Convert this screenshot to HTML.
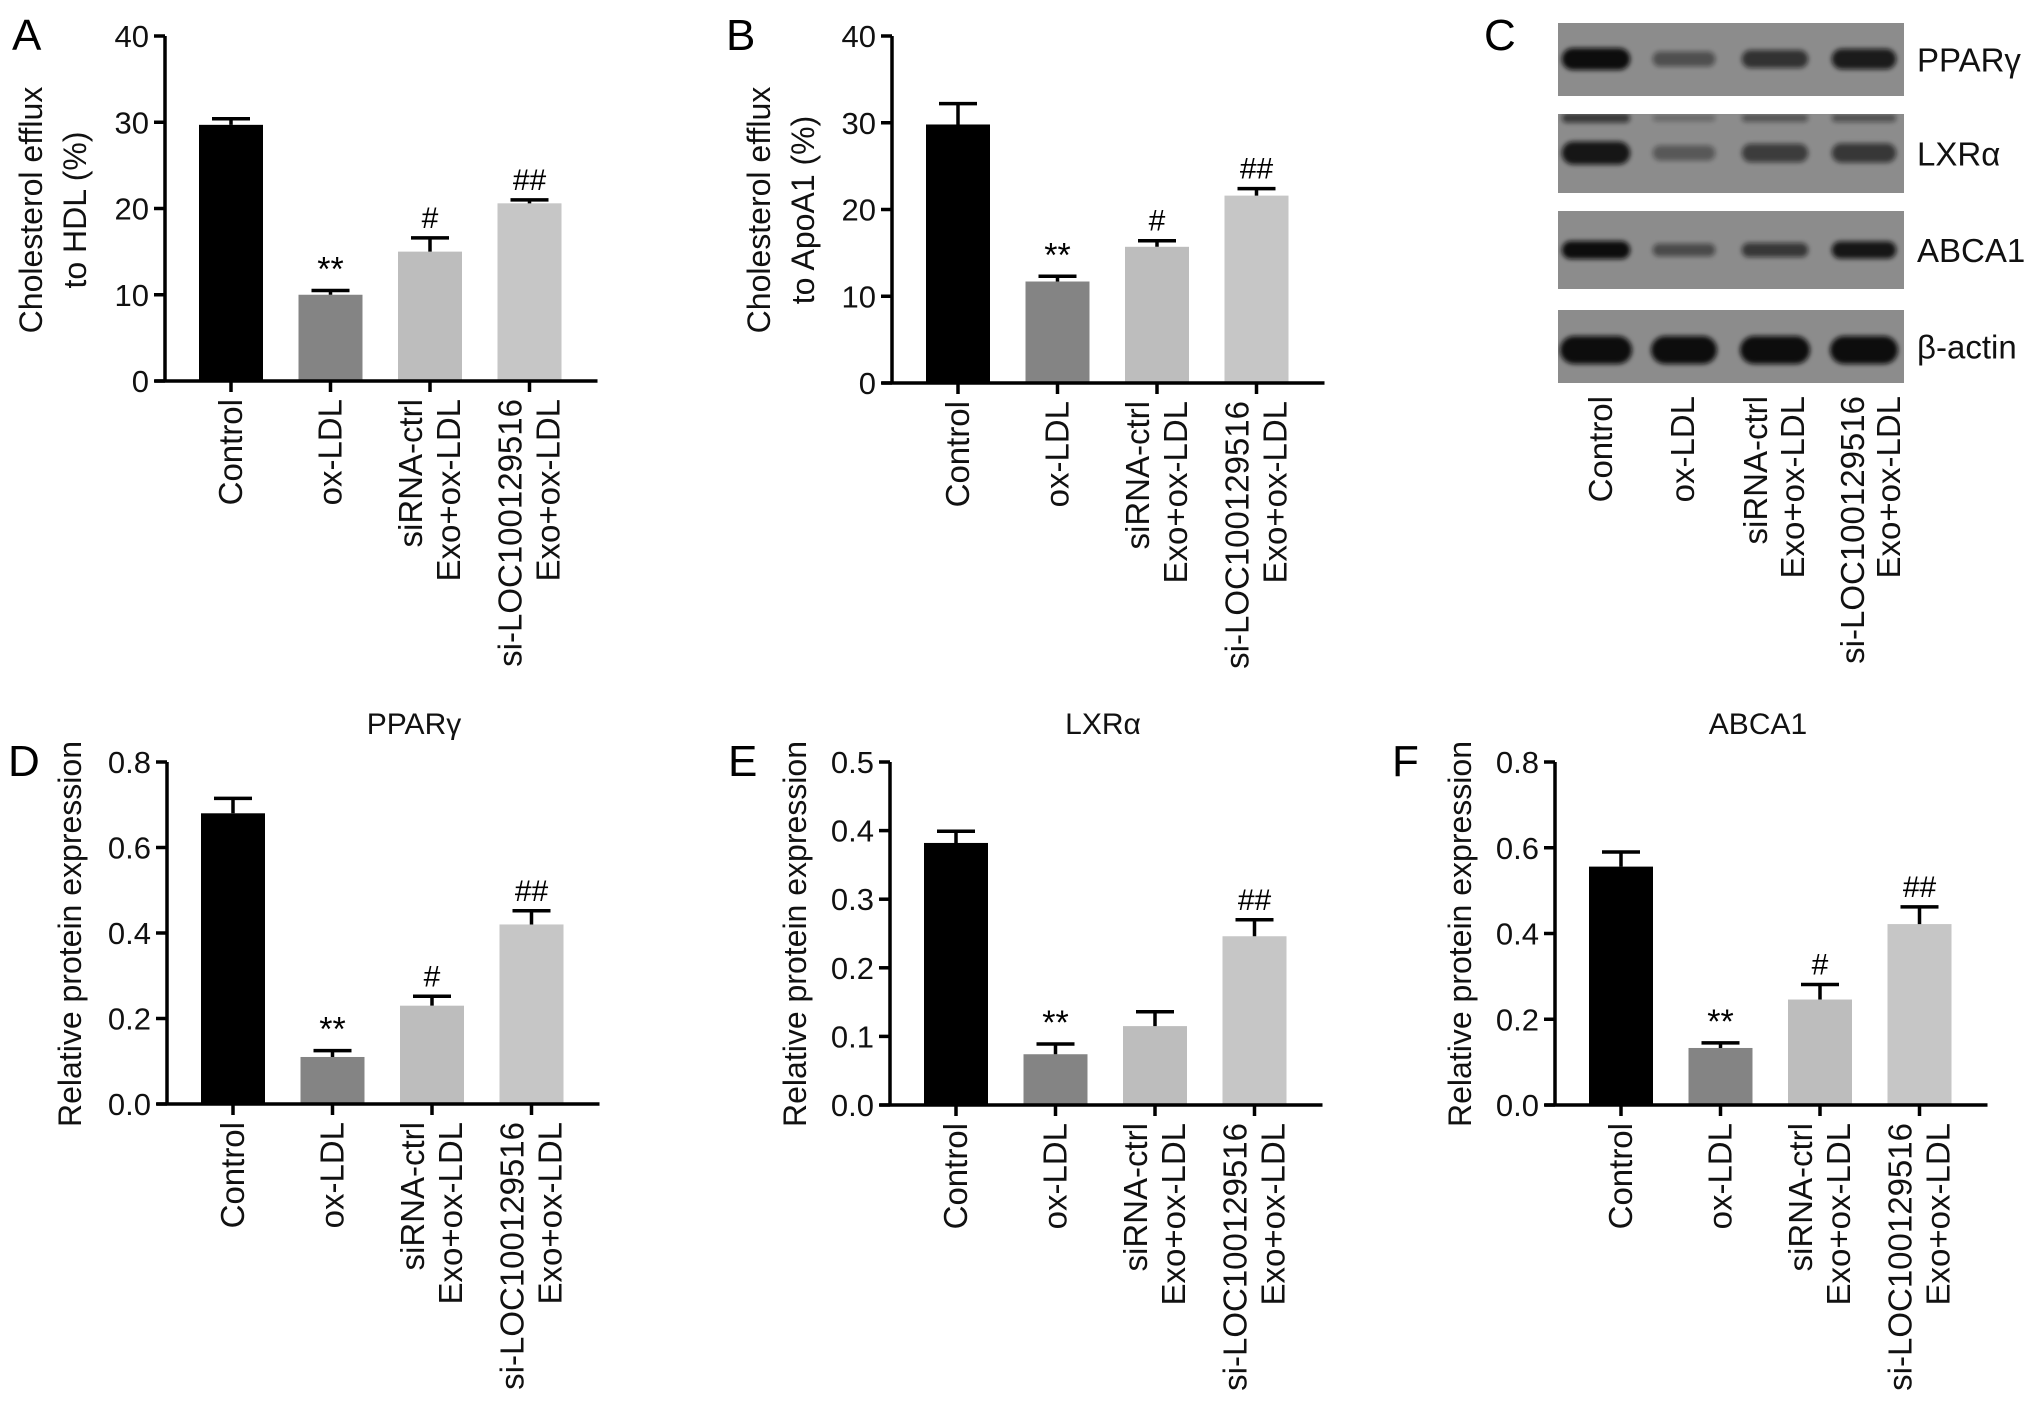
<!DOCTYPE html>
<html><head><meta charset="utf-8">
<style>
html,body{margin:0;padding:0;background:#fff;}
svg{display:block;font-family:"Liberation Sans",Arial,sans-serif;}
</style></head>
<body>
<svg id="fig" width="2032" height="1411" viewBox="0 0 2032 1411" xmlns="http://www.w3.org/2000/svg">
<defs><filter id="blur" x="-20%" y="-80%" width="140%" height="260%"><feGaussianBlur stdDeviation="2.5"/></filter></defs>
</svg>
<script>
const categories = ["Control","ox-LDL","siRNA-ctrl|Exo+ox-LDL","si-LOC100129516|Exo+ox-LDL"];
const barColors = ["#000000","#848484","#bdbdbd","#c6c6c6"];
const valuesA = [29.7, 10.0, 15.0, 20.6];
const errA = [30.4, 10.5, 16.6, 21.0];
const sigA = ["", "**", "#", "##"];
const valuesB = [29.8, 11.7, 15.7, 21.6];
const errB = [32.2, 12.3, 16.4, 22.4];
const sigB = ["", "**", "#", "##"];
const valuesD = [0.68, 0.11, 0.23, 0.42];
const errD = [0.715, 0.125, 0.252, 0.452];
const sigD = ["", "**", "#", "##"];
const valuesE = [0.382, 0.074, 0.115, 0.246];
const errE = [0.399, 0.089, 0.136, 0.270];
const sigE = ["", "**", "", "##"];
const valuesF = [0.556, 0.133, 0.246, 0.422];
const errF = [0.590, 0.145, 0.281, 0.462];
const sigF = ["", "**", "#", "##"];
const ticksA = ["0","10","20","30","40"];
const ticksD = ["0.0","0.2","0.4","0.6","0.8"];
const ticksE = ["0.0","0.1","0.2","0.3","0.4","0.5"];
const blotRows = ["PPARγ","LXRα","ABCA1","β-actin"];
const bandPPAR = [1.0, 0.3, 0.6, 0.85];
const bandLXR = [0.9, 0.2, 0.5, 0.55];
const bandABCA1 = [1.0, 0.35, 0.55, 0.9];
const bandActin = [1.0, 1.0, 1.0, 1.0];

const NS = "http://www.w3.org/2000/svg";
const svg = document.getElementById("fig");
function mk(tag, attrs, parent){
  const e = document.createElementNS(NS, tag);
  for (const k in attrs) e.setAttribute(k, attrs[k]);
  (parent||svg).appendChild(e);
  return e;
}
function txt(s, attrs, parent){ const t = mk("text", attrs, parent); t.textContent = s; return t; }

function panel(cfg){
  const g = mk("g", {});
  
  
  const ax = cfg.axisX, yT = cfg.yTop, y0 = cfg.yZero, max = cfg.max;
  const yScale = v => y0 - (v / max) * (y0 - yT);
  const xScale = i => ax + 66 + i * 99.5;
  cfg.values.forEach((v, i) => {
    const r = mk("rect", {x: xScale(i) - 32, y: yScale(v), width: 64, height: y0 - yScale(v), fill: barColors[i]}, g);
    
    
    const eTop = yScale(cfg.err[i]);
    const el = mk("path", {d: `M${xScale(i)} ${yScale(v)}V${eTop}M${xScale(i)-19} ${eTop}H${xScale(i)+19}`, stroke: "#000", "stroke-width": 3.5, fill: "none"}, g);
    
    
    if (cfg.sig[i]) {
      const s = txt(cfg.sig[i], {x: xScale(i), y: eTop - 10, "text-anchor": "middle", "font-size": cfg.sig[i] === "**" ? 34 : 30, fill: "#000"}, g);
      
      
    }
  });
  const xAxisEnd = xScale(3) + 68;
  const axes = mk("path", {d: `M${ax} ${yT}V${y0}M${ax-10} ${y0}H${xAxisEnd}`, stroke: "#000", "stroke-width": 3.5, fill: "none"}, g);
  
  
  cfg.ticks.forEach((t, k) => {
    const v = k * max / (cfg.ticks.length - 1);
    const y = yScale(v);
    mk("line", {x1: ax - 11, x2: ax, y1: y, y2: y, stroke: "#000", "stroke-width": 3.5}, g);
    const tl = txt(t, {x: ax - 16, y: y + 11, "text-anchor": "end", "font-size": 31, fill: "#111"}, g);
    
    
  });
  categories.forEach((c, i) => {
    const x = xScale(i);
    mk("line", {x1: x, x2: x, y1: y0, y2: y0 + 11, stroke: "#000", "stroke-width": 3.5}, g);
    const lines = c.split("|");
    lines.forEach((ln, j) => {
      const dx = lines.length === 1 ? 11 : (j === 0 ? -8 : 30);
      const t = txt(ln, {x: 0, y: 0, "text-anchor": "end", "font-size": 33, fill: "#111", transform: `translate(${x + dx},${y0 + 18}) rotate(-90)`}, g);
      
      
    });
  });
  cfg.yTitle.forEach((ln, j) => {
    const t = txt(ln, {x: 0, y: 0, "text-anchor": "middle", "font-size": 32, fill: "#111", transform: `translate(${cfg.titleX + j * 44},${cfg.titleY}) rotate(-90)`}, g);
    
    
  });
  if (cfg.top) {
    const t = txt(cfg.top, {x: cfg.topX, y: yT - 28, "text-anchor": "middle", "font-size": 30, fill: "#111"}, g);
    
    
  }
  const L = txt(cfg.letter, {x: cfg.letterX, y: cfg.letterY, "font-size": 44, fill: "#000"}, g);
  
  
}

panel({name:"panel-a-chart", axisX:165, yTop:36, yZero:381, max:40, values:valuesA, err:errA, sig:sigA, ticks:ticksA,
  yTitle:["Cholesterol efflux","to HDL (%)"], titleX:42, titleY:210, letter:"A", letterX:12, letterY:50});
panel({name:"panel-b-chart", axisX:892, yTop:36, yZero:383, max:40, values:valuesB, err:errB, sig:sigB, ticks:ticksA,
  yTitle:["Cholesterol efflux","to ApoA1 (%)"], titleX:770, titleY:210, letter:"B", letterX:726, letterY:50});
panel({name:"panel-d-chart", axisX:167, yTop:762, yZero:1104, max:0.8, values:valuesD, err:errD, sig:sigD, ticks:ticksD,
  yTitle:["Relative protein expression"], titleX:81, titleY:934, top:"PPARγ", topX:414, letter:"D", letterX:8, letterY:776});
panel({name:"panel-e-chart", axisX:890, yTop:762, yZero:1105, max:0.5, values:valuesE, err:errE, sig:sigE, ticks:ticksE,
  yTitle:["Relative protein expression"], titleX:806, titleY:934, top:"LXRα", topX:1103, letter:"E", letterX:728, letterY:776});
panel({name:"panel-f-chart", axisX:1555, yTop:762, yZero:1105, max:0.8, values:valuesF, err:errF, sig:sigF, ticks:ticksD,
  yTitle:["Relative protein expression"], titleX:1471, titleY:934, top:"ABCA1", topX:1758, letter:"F", letterX:1392, letterY:776});

// Western blot panel C
const gc = mk("g", {});


const defs = svg.querySelector("defs");
const rowsY = [[23,96],[114,193],[211,289],[310,383]];
const laneX = [1596, 1684, 1775, 1864];
const laneW = [72, 66, 70, 68];
const bandSets = [bandPPAR, bandLXR, bandABCA1, bandActin];
const bandYs = [[59],[118,153],[250],[350]];
const bandH = [[22],[10,24],[18],[28]];
rowsY.forEach((r, i) => {
  const cp = mk("clipPath", {id: "clip" + i}, defs);
  mk("rect", {x:1558, y:r[0], width:346, height:r[1]-r[0]}, cp);
  const bg = mk("rect", {x:1558, y:r[0], width:346, height:r[1]-r[0], fill:"#8c8c8c"}, gc);
  
  
  const bandG = mk("g", {"clip-path": `url(#clip${i})`}, gc);
  bandSets[i].forEach((inten, l) => {
    bandYs[i].forEach((by, k) => {
      const h = bandH[i][k] * (0.55 + 0.45 * inten);
      const w = laneW[l] * (i === 3 ? 1.0 : 0.95);
      const e = mk("rect", {x: laneX[l] - w/2, y: by - h/2, width: w, height: h, rx: h/2, fill: "#0a0a0a", opacity: (0.25 + 0.75*inten) * (k === 0 && i === 1 ? 0.7 : 1), filter:"url(#blur)"}, bandG);
      
      
    });
  });
  const lbl = txt(blotRows[i], {x:1917, y:(r[0]+r[1])/2 + 12, "font-size":33, fill:"#111"}, gc);
  
  
});
const blotLabels = [["Control",1600],["ox-LDL",1682],["siRNA-ctrl",1755],["Exo+ox-LDL",1792],["si-LOC100129516",1852],["Exo+ox-LDL",1888]];
blotLabels.forEach(b => {
  const t = txt(b[0], {x:0, y:0, "text-anchor":"end", "font-size":33, fill:"#111", transform:`translate(${b[1]+12},396) rotate(-90)`}, gc);
  
  
});
const LC = txt("C", {x:1484, y:50, "font-size":44, fill:"#000"}, gc);


</script>
</body></html>
